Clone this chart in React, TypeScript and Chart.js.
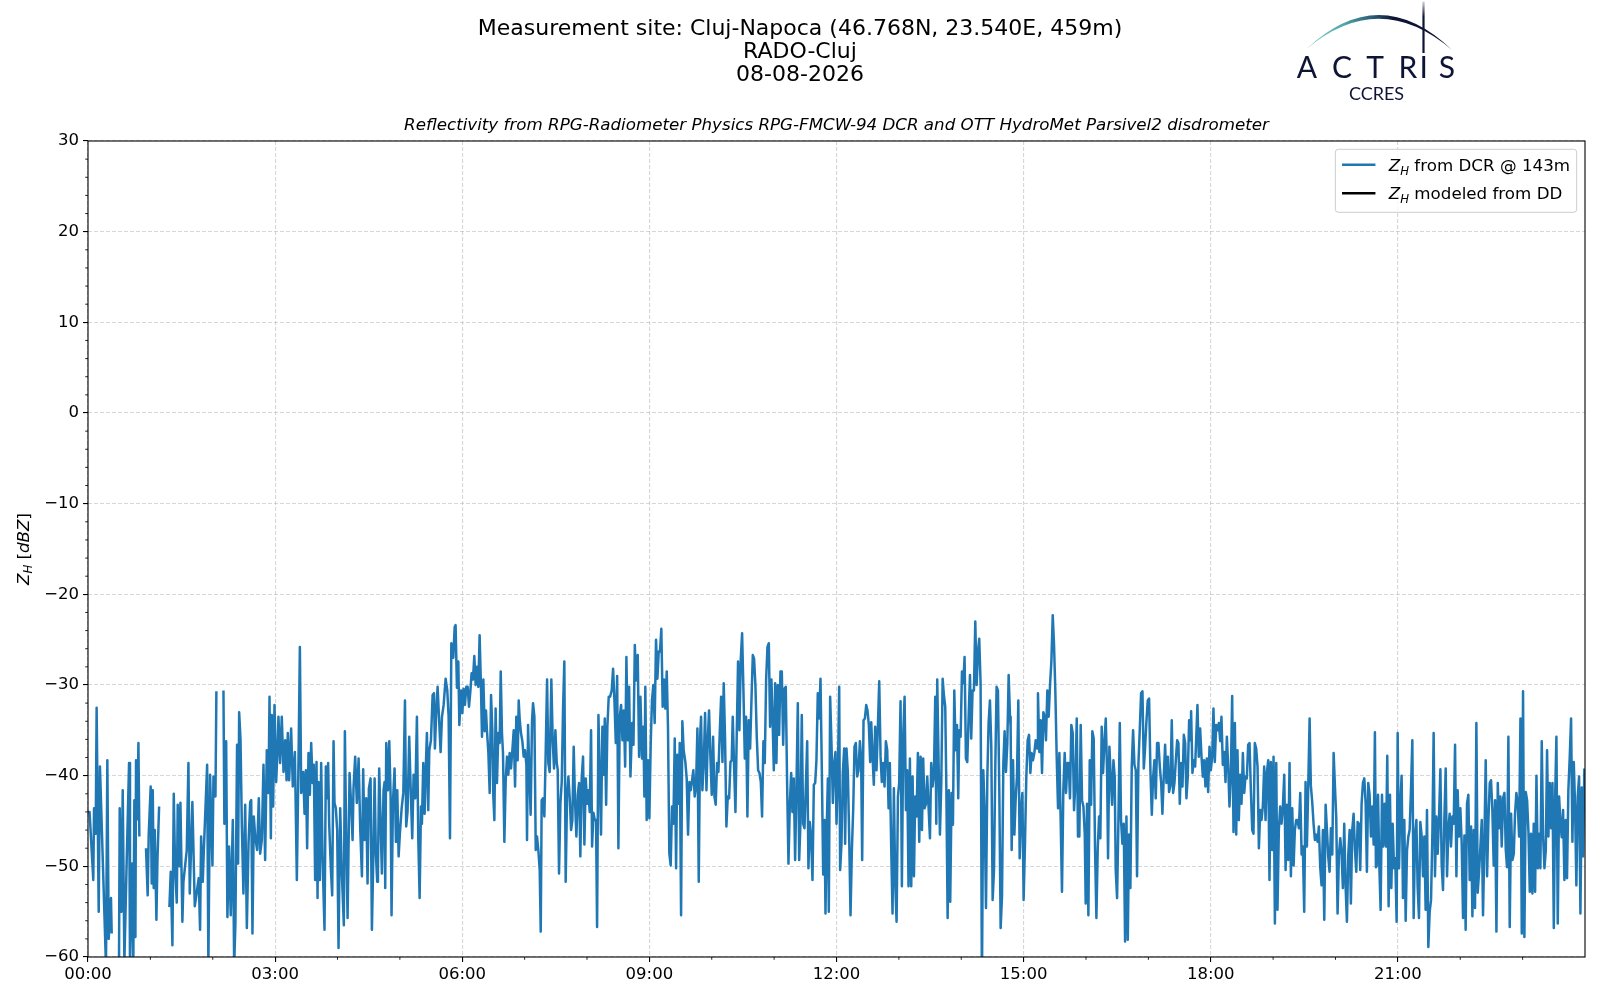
import React, { useEffect, useRef } from 'react';
import { Chart, registerables } from 'chart.js';

Chart.register(...registerables);

// ---- Z_H from the DCR, read off the picture block by block (minutes after 00:00, dBZ) ----
// null marks a break in the record
const minutes0000 = [
  0, 1.5, 5.1, 5.8, 7.4, 8.3, 10.3, 11.5, 17.3,
  18.6, 19.9, 22.1, 22.8, 26, 29.8, 30.5, 32.1, 33.4, 35,
  37.2, 39.5, 40.4, 42.4, 43.6, 44.6, 45.6, 46.2, 47.5, 48.5,
  49.4, 52, 55.8, 57.4, 58.4, 60.3, 61.3, 62.3, 63.2, 64.2,
  65.8, 66.8, 68.4, 73, 78.3, 79.6, 81.2, 82.5, 83.8, 85.4,
  86.3, 88, 88.9, 90.8, 91.8, 95, 96.6, 97.9, 100.4, 102.7,
  106.5, 107.8, 108.8, 110.4, 111.3, 114.6, 115.8, 117.4, 119.7, 120.7,
  122.6, 123.5, 127, 130.3, 131.2, 132.9, 134.1, 135.7, 137.3, 139.3,
  140.6, 141.8, 143.4, 144.4, 145.4, 146.7, 148, 149.5, 151.2, 152.8,
  154.4, 156, 157, 158.2, 159.5, 160.8, 162.7, 164.3, 165.6, 167.2,
  168.8, 170.4, 172, 173.6, 174.6, 175.9, 176.8, 178.1, 179.4,
];
const zh0000 = [
  -44, -44, -51.5, -43.6, -46.4, -32.5, -55, -39, -61,
  -38.3, -58, -53.5, -57.4, null, -61, -43.6, -55, -41.6, -60.5,
  -49.5, -38.6, -61, -49.7, -60.5, -42.7, -57.8, -38.3, -44.8, -36.4,
  -46.7, null, -48, -53.2, -46.5, -41.2, -51.9, -41.6, -52.4, -46,
  -55.9, -49.3, -43.4, null, -54.5, -50.6, -58.7, -42, -50.2, -54,
  -43.2, -50, -43, -56.1, -51.7, -48.2, -38.6, -53, -42.9, -54.4,
  -51.3, -57, -46.7, -51.7, -48.6, -38.8, -61, -39.9, -49.9, -40.1,
  -42.3, -30.7, null, -30.6, -45.3, -36.2, -55.6, -47.8, -55.4, -44.9,
  -61, -56.3, -36.6, -49.7, -33, -36, -45.6, -53, -43.2, -56.8,
  -47.5, -42.9, -42.7, -57.4, -44.5, -46.7, -48.2, -42.5, -48.6, -47.1,
  -38.8, -49.3, -37.2, -41.9, -31.3, -46.9, -33.3, -43.4, -32.2,
];

const minutes0300 = [
  181.0, 182.3, 183.2, 184.8, 186.4, 188.1, 189.7, 191.0, 192.2, 193.5,
  195.4, 197.0, 199.0, 200.9, 202.5, 203.8, 205.1, 207.0, 208.3, 209.6,
  210.8, 212.1, 213.4, 214.7, 216.0, 217.2, 218.5, 219.8, 220.8, 221.7,
  223.0, 224.3, 225.6, 227.5, 228.8, 230.1, 231.0, 232.0, 233.6, 234.9,
  236.2, 237.1, 238.4, 239.7, 241.0, 242.6, 244.2, 246.1, 247.1, 248.4,
  249.7, 251.6, 253.2, 254.5, 255.4, 257.0, 258.6, 260.3, 261.9, 263.5,
  264.7, 266.0, 267.6, 268.9, 270.2, 271.8, 273.1, 274.4, 275.7, 276.9,
  278.2, 278.9, 280.1, 281.4, 282.7, 284.3, 285.3, 285.9, 286.9, 288.5,
  289.8, 291.1, 292.0, 293.3, 294.9, 296.2, 297.5, 298.8, 300.0, 301.7,
  303.3, 304.9, 306.1, 307.4, 309.0, 310.6, 311.9, 313.2, 314.8, 316.4,
  317.7, 319.0, 320.3, 321.2, 322.5, 323.8, 325.1, 326.0, 327.3, 328.3,
  329.9, 331.5, 332.8, 333.7, 335.0, 336.3, 337.6, 339.2, 340.5, 342.1,
  344.0, 345.6, 346.9, 348.2, 349.5, 351.4, 352.7,
];
const zh0300 = [
  -40.7, -37.2, -33.5, -38.6, -33.5, -39.6, -36.1, -40.5, -35.3, -40.5,
  -34.8, -41.2, -37.4, -51.5, -38.3, -25.8, -41.9, -39.6, -44.2, -39.4,
  -48, -37.5, -42.1, -36.4, -40.8, -38.8, -51.5, -38.5, -53.5, -40.7,
  -51.5, -38.6, -48.9, -57, -39, -42.5, -38.6, -45.3, -50.2, -53.2,
  -36.2, -43, -43.6, -46, -59, -43.6, -50.8, -56.5, -35.1, -46.9,
  -55.7, -39.7, -43.4, -47.1, -41.4, -37.9, -43, -38.1, -46, -51.1,
  -39.3, -47.1, -42.5, -51.9, -41.4, -40.3, -57, -49.3, -40.3, -48.6,
  -51.7, -50.4, -39.2, -44.9, -50.8, -41.6, -40.7, -52.4, -36.4, -41.6,
  -36.2, -42.3, -55.4, -43, -39.2, -47.3, -41.6, -48.9, -46.4, -43.6,
  -41.9, -31.7, -45.6, -43.9, -35.7, -42.3, -46.9, -39.9, -42.5, -33.5,
  -46.9, -53.5, -43.4, -45.3, -38.6, -44.2, -38.5, -35.3, -43.8, -37.2,
  -36.1, -31.1, -30.9, -37, -32.9, -30.2, -33.5, -37.4, -33.5, -32.2,
  -29.3, -30.6, -33.5, -46.9, -25.4, -27, -23.6,
];

const minutes0600 = [
  353.6, 354.9, 356.2, 357.2, 358.8, 360.1, 361.3, 362.6, 363.9, 365.2,
  366.5, 367.8, 369.0, 370.3, 371.6, 372.9, 374.2, 375.5, 376.7, 378.0,
  379.0, 380.3, 381.6, 382.8, 383.8, 385.1, 386.4, 387.7, 388.9, 389.9,
  390.9, 392.1, 393.4, 394.7, 396.0, 397.0, 398.2, 399.2, 400.5, 401.8,
  403.1, 404.3, 405.6, 406.9, 408.2, 409.5, 410.8, 412.0, 413.3, 414.3,
  415.2, 416.5, 417.8, 419.1, 420.4, 421.7, 422.3, 423.3, 424.6, 425.8,
  427.1, 428.1, 429.4, 430.7, 431.9, 433.2, 434.5, 435.5, 436.4, 437.7,
  439.0, 440.3, 441.6, 442.8, 444.1, 445.7, 447.0, 448.3, 449.6, 450.9,
  451.8, 453.1, 454.4, 455.7, 457.0, 458.2, 459.5, 460.8, 462.1, 463.4,
  464.7, 465.9, 467.2, 468.5, 469.8, 471.1, 472.4, 473.6, 474.9, 476.2,
  477.5, 478.8, 480.1, 481.4, 482.6, 483.9, 484.9, 486.2, 487.5, 488.7,
  489.7, 491.0, 492.3, 493.5, 494.8, 496.1, 497.1, 498.4, 499.6, 500.9,
  502.2, 503.8, 505.1, 506.4, 507.7, 509.0, 510.2, 511.5, 512.8, 514.1,
  515.4, 516.7, 517.9, 519.2, 520.5, 521.8, 523.4, 524.7, 526.0, 527.2,
  528.8, 530.1, 531.4,
];
const zh0600 = [
  -23.4, -30.3, -27.4, -34.4, -30.6, -33.1, -30.4, -32.2, -30.2, -30.2,
  -32.4, -30.7, -28.7, -29.4, -26.8, -30, -28, -30.2, -24.5, -30.2,
  -35.7, -29.4, -35.1, -32.8, -35.1, -37.4, -41.9, -31.1, -34.9, -42.3,
  -44.9, -32.6, -40.8, -35.3, -36.4, -28.5, -35.3, -37.5, -47.3, -40.5,
  -37.9, -39.9, -37.5, -39.2, -37.2, -35, -41.2, -33.5, -38.3, -31.7,
  -33.7, -35.3, -36.2, -37.9, -37.2, -38.8, -47.1, -34.4, -39.9, -44.3,
  -34, -32, -33.5, -48.2, -46.7, -48.2, -50.4, -57.2, -42.7, -42.5,
  -44.5, -37.2, -29.4, -38.6, -39.6, -29.4, -36.1, -39.2, -35, -38.6,
  -39.3, -50.8, -43.1, -40.7, -32.4, -27.4, -51.7, -42.3, -40.1, -42.5,
  -46, -44.9, -36.8, -42.9, -46.7, -42.1, -40.8, -48.9, -40.3, -37.9,
  -47.6, -40.3, -43.1, -41.6, -44, -35, -47.8, -44.1, -44.9, -44.9,
  -56.7, -33.3, -40.1, -46.5, -34.6, -39.9, -33.7, -43.2, -34.6, -31.3,
  -31.3, -30.6, -28.2, -31.7, -36.4, -29, -48, -33.5, -32.2, -36.1,
  -32.8, -39, -26.9, -36.1, -30.2, -40.1, -34.2, -36.6, -25.6, -29.5,
  -26.7, -37.9, -31.3,
];

const minutes0900 = [
  532.9, 534.2, 535.2, 536.1, 537.4, 538.7, 540.0, 541.3, 542.5, 543.8,
  545.1, 546.4, 547.7, 549.0, 550.2, 551.5, 552.8, 554.1, 555.4, 556.7,
  557.9, 559.2, 560.5, 561.8, 563.1, 564.4, 565.7, 566.9, 568.2, 569.2,
  570.5, 571.7, 573.0, 574.6, 575.9, 577.2, 578.5, 579.8, 581.1, 582.3,
  583.6, 584.9, 586.2, 587.5, 588.8, 589.7, 591.0, 592.3, 593.6, 594.9,
  596.1, 597.4, 598.7, 600.0, 601.3, 602.6, 603.8, 605.1, 606.4, 607.7,
  609.0, 610.3, 611.5, 612.8, 614.1, 615.4, 616.7, 618.0, 619.2, 620.2,
  621.5, 622.8, 624.1, 625.3, 626.6, 627.9, 629.2, 630.5, 631.8, 633.0,
  634.3, 635.6, 636.9, 638.2, 639.5, 640.7, 642.0, 643.3, 644.6, 645.9,
  647.2, 648.4, 649.7, 651.0, 652.3, 653.6, 654.9, 656.1, 657.4, 658.7,
  659.7, 661.0, 662.2, 663.5, 664.8, 666.1, 667.4, 668.7, 669.9, 671.2,
  672.5, 673.8, 675.1, 676.4, 677.6, 678.9, 680.2, 681.5, 682.8, 684.1,
  685.3, 686.6, 687.9, 689.2, 690.5, 691.8, 693.0, 694.3, 695.6, 696.9,
  698.2, 699.5, 700.7, 702.0, 703.3, 704.6, 705.9, 707.2, 708.5, 709.4,
];
const zh0900 = [
  -38.1, -34.6, -42.3, -30.2, -44.9, -38.3, -44.7, -36.4, -31.7, -30,
  -34.2, -25, -29.3, -26.3, -26.3, -23.8, -32.4, -29.4, -32.6, -28.5,
  -34.6, -48.6, -49.9, -43.4, -45.3, -35.9, -50.2, -37.7, -43.1, -36.4,
  -55.4, -34, -37.2, -38.5, -40.3, -46.5, -40.7, -41.6, -40.5, -39.4,
  -42.3, -41.2, -34.8, -51.7, -35.7, -33.5, -41.6, -38.6, -33.1, -41.6,
  -36.4, -32.8, -37.9, -42.1, -35.7, -42.3, -43.2, -38.6, -39.6, -35.3,
  -31.3, -38.5, -29.8, -35.9, -45.6, -42.3, -42.5, -38.5, -38.3, -33.5,
  -39, -44, -35, -27.4, -35, -27.2, -24.3, -30.7, -38.1, -33.5,
  -44.5, -33.9, -37, -31.7, -26.7, -27.1, -30, -35.7, -39.4, -39.7,
  -40.7, -44.5, -36.2, -38.6, -29.4, -25.8, -25.4, -34.6, -29.4, -34.6,
  -39.4, -29.8, -38.6, -30, -35.5, -28.5, -28.5, -36.6, -30.4, -30.2,
  -40.8, -49.7, -43.2, -39.7, -44, -40.3, -49.3, -41.2, -32, -49.3,
  -45.3, -33.3, -45.3, -45.8, -41.2, -36.2, -50.2, -45.1, -46.7, -51.5,
  -41, -40.8, -38.3, -30.9, -33.7, -29.3, -39.4, -50.9, -44.9, -55.2,
];

const minutes1200 = [
  710.7, 711.7, 712.6, 713.9, 715.2, 716.5, 717.8, 719.0, 720.0, 721.3,
  722.6, 723.5, 724.8, 726.1, 727.4, 728.3, 729.6, 730.9, 732.2, 733.5,
  734.8, 736.1, 737.3, 738.6, 739.9, 741.2, 742.5, 743.7, 744.7, 746.0,
  747.3, 748.6, 749.8, 751.1, 752.4, 753.4, 754.7, 755.9, 757.2, 758.5,
  759.8, 761.1, 762.4, 763.6, 764.9, 766.2, 767.5, 768.8, 770.1, 771.3,
  772.6, 773.9, 775.2, 776.5, 777.8, 779.1, 780.3, 781.6, 782.9, 784.2,
  785.5, 786.8, 788.0, 789.3, 790.6, 791.9, 793.2, 794.5, 795.7, 797.0,
  798.3, 799.6, 800.9, 802.2, 803.4, 804.7, 806.0, 807.3, 808.6, 809.9,
  811.1, 812.4, 813.7, 815.0, 816.0, 816.9, 818.2, 819.5, 820.8, 822.1,
  823.3, 824.6, 825.6, 826.9, 828.1, 829.4, 830.7, 832.0, 833.3, 834.6,
  835.9, 837.1, 838.1, 839.4, 840.7, 842.0, 843.2, 844.5, 845.8, 847.1,
  848.4, 849.6, 850.9, 852.2, 853.5, 854.8, 856.1, 857.3, 858.6, 859.9,
  861.2, 862.5, 863.8, 865.1, 866.3, 867.6, 868.9, 870.2, 871.5, 872.8,
  874.0, 875.3, 876.6, 877.9, 879.2, 880.5, 881.7, 883.0, 884.3, 885.6,
  886.9, 887.5,
];
const zh1200 = [
  -45.3, -40.3, -55, -31.3, -36.6, -43, -38.6, -37.4, -45.3, -40.1,
  -30.2, -50.4, -47.5, -39.6, -37, -47.5, -37, -39.6, -46.7, -55.4,
  -48.2, -43.6, -36.8, -36.4, -40.1, -39.4, -36.2, -38.1, -49.3, -33.9,
  -33.7, -32.2, -32.8, -34.4, -38.5, -34.1, -37.9, -41, -34.6, -39.4,
  -34.6, -29.6, -37.9, -40.7, -38.6, -41.2, -36.2, -37.2, -43.6, -38.6,
  -47.8, -55.2, -41.4, -51.9, -56.1, -42.3, -40.8, -31.8, -52.2, -35.5,
  -31.3, -43.8, -39.4, -52.2, -38.1, -52.2, -40.1, -51.1, -42.3, -44.5,
  -37.5, -47.3, -37.9, -46, -38.1, -43.6, -43.1, -40.1, -43.6, -46.9,
  -38.6, -41.2, -39.9, -31.3, -45.3, -29.4, -38.5, -46.5, -40.8, -29.3,
  -31.1, -32.4, -40.7, -55.7, -41.6, -53.9, -41.9, -45.4, -30.6, -37.2,
  -34.4, -42.5, -35, -35.7, -28.5, -29.8, -26.9, -38.1, -38.5, -33.5,
  -28.9, -35.9, -30.6, -30.6, -23, -30, -26.3, -24.9, -29.8, -63,
  -39.4, -43.8, -54.6, -40.1, -34.2, -31.7, -36.8, -53.7, -50.4, -38.6,
  -30.2, -30.6, -41.6, -56.8, -53.3, -38.6, -35.1, -39.6, -36.5, -28.9,
  -33.5, -34.6,
];

const minutes1500 = [
  888.5, 889.8, 891.1, 892.3, 893.6, 894.9, 896.2, 897.5, 898.8, 900.0,
  901.3, 902.6, 903.9, 905.2, 906.5, 907.7, 909.0, 910.3, 911.6, 912.9,
  913.8, 915.1, 916.4, 917.7, 919.0, 920.3, 921.5, 922.8, 924.1, 925.4,
  926.7, 928.0, 929.2, 930.5, 931.8, 933.1, 934.4, 935.7, 936.9, 938.2,
  939.5, 940.8, 942.1, 943.4, 944.6, 945.9, 947.2, 948.5, 949.8, 951.1,
  952.3, 953.6, 954.9, 956.2, 957.5, 958.8, 959.7, 961.0, 962.3, 963.6,
  964.9, 966.1, 967.4, 968.7, 970.0, 971.3, 972.6, 973.8, 975.1, 976.4,
  977.7, 979.0, 980.3, 981.2, 982.5, 983.8, 985.1, 986.4, 987.6, 988.6,
  989.9, 991.2, 992.5, 993.7, 995.0, 996.3, 997.6, 998.9, 1000.2, 1001.4,
  1002.7, 1004.0, 1005.3, 1006.6, 1007.9, 1009.1, 1010.4, 1011.7, 1013.0, 1014.3,
  1015.6, 1016.8, 1018.1, 1019.4, 1020.7, 1022.0, 1023.3, 1024.5, 1025.8, 1027.1,
  1028.4, 1029.7, 1031.0, 1032.3, 1033.5, 1034.8, 1036.1, 1037.4, 1038.7, 1039.9,
  1041.2, 1042.5, 1043.8, 1045.1, 1046.4, 1047.7, 1048.9, 1050.2, 1051.5, 1052.8,
  1054.1, 1055.4, 1056.6, 1057.9, 1059.2, 1060.8,
];
const zh1500 = [
  -48.2, -38.3, -46.5, -42.7, -40.1, -31.7, -49.1, -44, -41.9, -53.7,
  -47.5, -40.1, -36.1, -35.5, -39.7, -37.5, -38.3, -37.5, -36.1, -37,
  -30.9, -37.4, -33.9, -39.7, -33, -33.5, -36.1, -30.6, -33.5, -30,
  -27.4, -22.3, -25.4, -30.6, -37.9, -43.6, -37.5, -45.3, -52.8, -41.6,
  -37.5, -41.9, -38.6, -38.6, -42.5, -34.4, -35.3, -43.8, -40.8, -33.7,
  -46.7, -46.7, -34.4, -42.7, -43.4, -46.4, -54.1, -43.1, -55.4, -38.3,
  -43.2, -35.1, -35.9, -48, -55.7, -48, -44.5, -46.9, -34.6, -39.7,
  -36.4, -33.7, -39.7, -49.1, -36.8, -40.1, -43.2, -38.3, -40.1, -50.4,
  -53.5, -44.9, -34.2, -44.9, -47.5, -45.3, -58.3, -44.5, -58.1, -46.5,
  -52.4, -39, -35, -38.8, -39.4, -51.1, -38.8, -35, -30.9, -30.7,
  -39.2, -37, -34.1, -31.7, -31.5, -39.6, -44.3, -40.3, -38.3, -42.5,
  -36.4, -36.4, -39, -40.8, -44.2, -40.1, -36.6, -40.8, -37.9, -41.8,
  -41.1, -33.9, -41.9, -40.8, -38.3, -36.1, -36.4, -43.1, -38.6, -41.2,
  -35.5, -36.4, -42.5, -40.1, -33.9, -36.1,
];

const minutes1800 = [
  1061.1, 1062.4, 1063.7, 1065.0, 1066.3, 1067.2, 1068.5, 1069.8, 1071.1, 1072.4,
  1073.6, 1074.9, 1076.2, 1077.5, 1078.8, 1080.1, 1081.4, 1082.6, 1083.9, 1085.2,
  1086.5, 1087.8, 1089.1, 1090.3, 1091.6, 1092.9, 1094.2, 1095.5, 1096.8, 1098.0,
  1099.3, 1100.6, 1101.9, 1103.2, 1104.5, 1105.7, 1107.0, 1108.3, 1109.6, 1110.9,
  1112.2, 1113.4, 1114.7, 1116.0, 1117.3, 1118.6, 1119.9, 1121.1, 1122.4, 1123.7,
  1125.0, 1126.3, 1127.6, 1128.8, 1130.1, 1131.4, 1132.7, 1134.0, 1135.3, 1136.5,
  1137.8, 1139.1, 1140.4, 1141.7, 1143.0, 1144.2, 1145.5, 1146.8, 1148.1, 1149.4,
  1150.7, 1152.0, 1153.2, 1154.5, 1155.8, 1157.1, 1158.4, 1159.7, 1160.9, 1162.2,
  1163.5, 1164.8, 1166.1, 1167.4, 1168.6, 1169.9, 1171.2, 1172.5, 1173.8, 1175.1,
  1176.3, 1177.6, 1178.9, 1180.2, 1181.5, 1182.8, 1184.0, 1185.3, 1186.6, 1187.9,
  1189.2, 1190.5, 1191.7, 1193.0, 1194.3, 1195.6, 1196.9, 1198.2, 1199.4, 1200.7,
  1202.0, 1203.3, 1204.6, 1205.9, 1207.1, 1208.4, 1209.7, 1211.0, 1212.3, 1213.6,
  1214.8, 1216.1, 1217.4, 1218.7, 1220.0, 1221.3, 1222.5, 1223.8, 1225.1, 1226.4,
  1227.7, 1229.0, 1230.2, 1231.5, 1232.8, 1234.1, 1235.4, 1236.7, 1237.9, 1238.9,
];
const zh1800 = [
  -32.9, -39.7, -38.3, -39, -35, -32.2, -37.9, -34.8, -37.9, -40.1,
  -38.3, -41.2, -38.1, -41.8, -36.8, -39.4, -37.9, -32.6, -38.5, -34.4,
  -35, -34.2, -36.2, -33.5, -38.8, -37.4, -40.7, -35.7, -39, -43.4,
  -40.1, -31.2, -46.2, -34.2, -46.5, -37.2, -44.9, -39.9, -43.1, -37.5,
  -41.9, -40.1, -40.3, -36.6, -36.4, -41.6, -46, -46.4, -36.4, -37,
  -39, -48, -43.8, -44.9, -43.4, -39, -44.9, -39.6, -38.3, -51.5,
  -38.5, -48.2, -37.9, -56.3, -38.6, -54.8, -46, -43.4, -45.3, -43.4,
  -39.9, -50.4, -43.2, -49.3, -38.6, -51.1, -43.6, -49.9, -46, -44.9,
  -44.9, -45.8, -41.9, -48.7, -47.8, -55, -40.7, -47.8, -41.1, -33.7,
  -41.1, -42.9, -45.3, -47.1, -46.5, -47.3, -45.6, -50.1, -52.1, -46,
  -55.9, -43.2, -45.8, -48.9, -50.6, -45.8, -48.7, -37.5, -41, -44.5,
  -55.2, -48.7, -46.9, -48.7, -52.4, -45.3, -52.2, -56.1, -48.7, -46,
  -54.1, -46, -44.2, -48.2, -50.6, -45.1, -45.3, -50.4, -43.1, -40.8,
  -40.3, -43.1, -50.6, -40.8, -42.1, -46.7, -43.4, -47.6, -35.2, -50.1,
];

const minutes2100 = [
  1239.6, 1240.9, 1242.1, 1243.4, 1244.7, 1246.0, 1247.3, 1248.6, 1249.8, 1251.1,
  1252.4, 1253.7, 1255.0, 1256.3, 1257.5, 1258.8, 1259.8, 1261.1, 1262.4, 1263.6,
  1264.9, 1266.2, 1267.5, 1268.8, 1270.1, 1271.3, 1272.6, 1273.9, 1275.2, 1276.5,
  1277.8, 1279.0, 1280.3, 1281.6, 1282.9, 1284.2, 1285.5, 1286.7, 1288.0, 1289.3,
  1290.6, 1291.9, 1293.2, 1294.4, 1295.7, 1297.0, 1298.3, 1299.6, 1300.9, 1302.1,
  1303.4, 1304.7, 1306.0, 1307.3, 1308.6, 1309.8, 1311.1, 1312.4, 1313.7, 1315.0,
  1316.3, 1317.5, 1318.8, 1320.1, 1321.4, 1322.7, 1324.0, 1325.2, 1326.5, 1327.8,
  1329.1, 1330.4, 1331.7, 1333.0, 1334.2, 1335.5, 1336.8, 1338.1, 1339.4, 1340.7,
  1341.9, 1343.2, 1344.5, 1345.8, 1347.1, 1348.4, 1349.6, 1350.9, 1352.2, 1353.5,
  1354.8, 1356.1, 1357.3, 1358.6, 1359.9, 1361.2, 1362.5, 1363.8, 1365.0, 1366.3,
  1367.6, 1368.9, 1370.2, 1371.5, 1372.7, 1374.0, 1375.3, 1376.6, 1377.9, 1379.2,
  1380.4, 1381.7, 1383.0, 1384.3, 1385.6, 1386.9, 1388.1, 1389.4, 1390.7, 1392.0,
  1393.3, 1394.6, 1395.8, 1397.1, 1398.4, 1399.7, 1401.0, 1402.3, 1403.5, 1404.8,
  1406.1, 1407.4, 1408.7, 1410.0, 1411.3, 1412.5, 1413.8, 1415.1, 1416.4, 1417.6,
  1418.9, 1420.2, 1421.5, 1422.7, 1424.0, 1425.3, 1426.6, 1427.9, 1429.2, 1430.4,
  1431.7, 1433.0, 1434.3, 1435.6, 1436.9, 1438.1, 1439.4,
];
const zh2100 = [
  -50, -42.1, -49.7, -54.8, -42.1, -47.8, -43.1, -47.8, -37.8, -54.4,
  -42.1, -52.4, -45.3, -50.2, -49.1, -56.1, -35.3, -50.2, -43.1, -40,
  -53.5, -44.9, -56, -48.2, -46.7, -46, -41.6, -36.1, -55.7, -46.7,
  -44.9, -52.2, -55.7, -45.1, -46.7, -51.1, -46.7, -54.8, -43.8, -58.9,
  -55, -53.7, -46.4, -35.3, -51.1, -44.5, -48.6, -44.5, -39.3, -49.7,
  -52.6, -44.9, -39.2, -51.1, -45.8, -44.2, -47.8, -44.5, -45.3, -36.6,
  -51.1, -41.6, -46.7, -43.6, -47.5, -55.7, -46.6, -57, -43.1, -42.1,
  -51.5, -45.6, -55.5, -46, -54.6, -34.2, -52.9, -50.6, -47.8, -44.9,
  -55.4, -47.5, -38.3, -51.1, -44.9, -40.8, -40.5, -43.8, -49.9, -42.7,
  -57.2, -40.8, -45.8, -42.3, -47.8, -42.5, -41.9, -48.2, -50.1, -35.7,
  -56.7, -44.2, -49.3, -48.6, -44.2, -41.9, -43.1, -46.7, -33.7, -57.4,
  -30.7, -57.8, -41.8, -42.7, -46.2, -52.8, -46.4, -53, -45.3, -52.8,
  -40, -50.2, -46.4, -50.2, -36.2, -46.7, -50.2, -48.2, -37.2, -46.7,
  -40.8, -45.8, -40.8, -56.8, -42.3, -35.7, -56.3, -42.3, -45.3, -46.8,
  -43.8, -51.5, -44.9, -51.3, -41.6, -38, -33.7, -47.3, -38.5, -43.1,
  -52.1, -42.3, -40.1, -55.2, -41.3, -48.9, -39.2,
];

const timeMinutes = [
  ...minutes0000, ...minutes0300, ...minutes0600, ...minutes0900,
  ...minutes1200, ...minutes1500, ...minutes1800, ...minutes2100,
];
const zhDcr: (number | null)[] = [
  ...zh0000, ...zh0300, ...zh0600, ...zh0900,
  ...zh1200, ...zh1500, ...zh1800, ...zh2100,
];
// the disdrometer gives nothing on this day
const zhModeled: { x: number; y: number }[] = [];

const hourTicks = [0, 180, 360, 540, 720, 900, 1080, 1260];
const zTicks = [-60, -50, -40, -30, -20, -10, 0, 10, 20, 30];

const titleLines = ['Measurement site: Cluj-Napoca (46.768N, 23.540E, 459m)', 'RADO-Cluj', '08-08-2026'];
const subTitle = 'Reflectivity from RPG-Radiometer Physics RPG-FMCW-94 DCR and OTT HydroMet Parsivel2 disdrometer';
const legendItems = [
  { text: ' from DCR @ 143m', color: '#1f77b4' },
  { text: ' modeled from DD', color: '#000000' },
];

const FAMILY = '"DejaVu Sans", sans-serif';
const NAVY = '#0e1436';
const LINE_W = 2.5;

const pad2 = (n: number) => String(n).padStart(2, '0');

// italic Z with subscript H, like matplotlib's $Z_H$; returns the width used
function drawZH(ctx: CanvasRenderingContext2D, x: number, y: number, size: number, measureOnly = false) {
  ctx.font = `italic ${size}px ${FAMILY}`;
  const wz = ctx.measureText('Z').width;
  if (!measureOnly) ctx.fillText('Z', x, y);
  const sub = size * 0.7;
  ctx.font = `italic ${sub}px ${FAMILY}`;
  const wh = ctx.measureText('H').width;
  if (!measureOnly) ctx.fillText('H', x + wz, y + size * 0.23);
  return wz + wh;
}

function drawLogo(ctx: CanvasRenderingContext2D) {
  ctx.save();
  // swoosh
  const g = ctx.createLinearGradient(1307, 0, 1451, 0);
  g.addColorStop(0, '#86cfca');
  g.addColorStop(0.25, '#4fa9a8');
  g.addColorStop(0.45, '#2b5f78');
  g.addColorStop(0.6, NAVY);
  g.addColorStop(1, NAVY);
  ctx.fillStyle = g;
  ctx.beginPath();
  ctx.moveTo(1306, 49.5);
  ctx.quadraticCurveTo(1379, -19.5, 1452, 50);
  ctx.quadraticCurveTo(1379, -12, 1306, 49.5);
  ctx.closePath();
  ctx.fill();
  // mast
  const vg = ctx.createLinearGradient(0, 1, 0, 53);
  vg.addColorStop(0, 'rgba(14,20,54,0.15)');
  vg.addColorStop(0.3, NAVY);
  vg.addColorStop(1, NAVY);
  ctx.fillStyle = vg;
  ctx.fillRect(1422.4, 1.5, 2.2, 51.5);
  // letters
  ctx.fillStyle = NAVY;
  ctx.textAlign = 'center';
  ctx.textBaseline = 'alphabetic';
  ctx.font = '400 30px Lato, "Open Sans", sans-serif';
  const letters: [string, number][] = [['A', 1307], ['C', 1342], ['T', 1375], ['R', 1408], ['I', 1423.6], ['S', 1447]];
  letters.forEach(([ch, cx]) => ctx.fillText(ch, cx, 77.8));
  ctx.font = '18px Lato, "Open Sans", sans-serif';
  ctx.fillText('CCRES', 1376.5, 99.5);
  ctx.restore();
}

const decorPlugin = {
  id: 'decor',
  beforeDraw(chart: Chart) {
    const ctx = chart.ctx;
    ctx.save();
    ctx.fillStyle = '#ffffff';
    ctx.fillRect(0, 0, chart.width, chart.height);
    ctx.restore();
  },
  afterDatasetsDraw(chart: Chart) {
    const { ctx, chartArea: a } = chart;
    const xs = chart.scales.x;
    const ys = chart.scales.y;
    ctx.save();
    // minor ticks
    ctx.strokeStyle = '#000';
    ctx.lineWidth = 0.85;
    ctx.beginPath();
    for (let m = 60; m < 1440; m += 60) {
      if (m % 180 === 0) continue;
      const px = xs.getPixelForValue(m);
      ctx.moveTo(px, a.bottom);
      ctx.lineTo(px, a.bottom + 2.8);
    }
    for (let v = -58; v < 30; v += 2) {
      if (v % 10 === 0) continue;
      const py = ys.getPixelForValue(v);
      ctx.moveTo(a.left, py);
      ctx.lineTo(a.left - 2.8, py);
    }
    ctx.stroke();
    // spines
    ctx.lineWidth = 1.1;
    ctx.strokeRect(a.left, a.top, a.right - a.left, a.bottom - a.top);
    ctx.restore();
  },
  afterDraw(chart: Chart) {
    const { ctx, chartArea: a } = chart;
    ctx.save();
    ctx.fillStyle = '#000';
    // figure title
    ctx.textAlign = 'center';
    ctx.textBaseline = 'middle';
    ctx.font = `22px ${FAMILY}`;
    titleLines.forEach((line, i) => ctx.fillText(line, 800, 29 + i * 23));
    // axes title
    ctx.font = `italic 16.7px ${FAMILY}`;
    ctx.fillText(subTitle, (a.left + a.right) / 2, 125.5);

    // y label: Z_H [dBZ]
    const fs = 16.7;
    ctx.textAlign = 'left';
    ctx.textBaseline = 'alphabetic';
    const wZ = drawZH(ctx, 0, 0, fs, true);
    ctx.font = `${fs}px ${FAMILY}`;
    const wOpen = ctx.measureText(' [').width;
    const wClose = ctx.measureText(']').width;
    ctx.font = `italic ${fs}px ${FAMILY}`;
    const wUnit = ctx.measureText('dBZ').width;
    const total = wZ + wOpen + wUnit + wClose;
    ctx.translate(28.5, (a.top + a.bottom) / 2);
    ctx.rotate(-Math.PI / 2);
    let x0 = -total / 2;
    x0 += drawZH(ctx, x0, 0, fs);
    ctx.font = `${fs}px ${FAMILY}`;
    ctx.fillText(' [', x0, 0);
    x0 += wOpen;
    ctx.font = `italic ${fs}px ${FAMILY}`;
    ctx.fillText('dBZ', x0, 0);
    x0 += wUnit;
    ctx.font = `${fs}px ${FAMILY}`;
    ctx.fillText(']', x0, 0);
    ctx.setTransform(1, 0, 0, 1, 0, 0);
    ctx.restore();

    // legend, upper right
    ctx.save();
    const lf = 16.7;
    let maxW = 0;
    legendItems.forEach((it) => {
      const w = drawZH(ctx, 0, 0, lf, true);
      ctx.font = `${lf}px ${FAMILY}`;
      maxW = Math.max(maxW, w + ctx.measureText(it.text).width);
    });
    const boxW = 6.7 + 33.4 + 13.4 + maxW + 6.7;
    const boxH = 63;
    const bx = a.right - 8.3 - boxW;
    const by = a.top + 8.3;
    const r = 3;
    ctx.beginPath();
    ctx.moveTo(bx + r, by);
    ctx.arcTo(bx + boxW, by, bx + boxW, by + boxH, r);
    ctx.arcTo(bx + boxW, by + boxH, bx, by + boxH, r);
    ctx.arcTo(bx, by + boxH, bx, by, r);
    ctx.arcTo(bx, by, bx + boxW, by, r);
    ctx.closePath();
    ctx.fillStyle = 'rgba(255,255,255,0.8)';
    ctx.fill();
    ctx.strokeStyle = '#cccccc';
    ctx.lineWidth = 1;
    ctx.stroke();
    legendItems.forEach((it, i) => {
      const cy = by + 15.5 + i * 28.5;
      ctx.strokeStyle = it.color;
      ctx.lineWidth = LINE_W;
      ctx.beginPath();
      ctx.moveTo(bx + 6.7, cy);
      ctx.lineTo(bx + 6.7 + 33.4, cy);
      ctx.stroke();
      ctx.fillStyle = '#000';
      ctx.textAlign = 'left';
      ctx.textBaseline = 'alphabetic';
      const tx = bx + 6.7 + 33.4 + 13.4;
      const base = cy + lf * 0.36;
      const w = drawZH(ctx, tx, base, lf);
      ctx.font = `${lf}px ${FAMILY}`;
      ctx.fillText(it.text, tx + w, base);
    });
    ctx.restore();

    drawLogo(ctx);
  },
};

const App: React.FC = () => {
  const canvasRef = useRef<HTMLCanvasElement>(null);
  const chartRef = useRef<Chart | null>(null);

  useEffect(() => {
    document.body.style.margin = '0';
    if (!canvasRef.current) return;
    const ctx = canvasRef.current.getContext('2d');
    if (!ctx) return;

    if (chartRef.current) {
      chartRef.current.destroy();
    }

    const tickFont = { family: FAMILY, size: 16.5 };
    const gridColor = 'rgba(176,176,176,0.5)';

    chartRef.current = new Chart(ctx, {
      type: 'line',
      data: {
        datasets: [
          {
            label: 'Z_H from DCR @ 143m',
            data: timeMinutes.map((t, i) => ({ x: t, y: zhDcr[i] as number })),
            borderColor: '#1f77b4',
            backgroundColor: '#1f77b4',
            borderWidth: LINE_W,
            borderJoinStyle: 'round',
            pointRadius: 0,
            tension: 0,
            spanGaps: false,
            clip: 0,
          },
          {
            label: 'Z_H modeled from DD',
            data: zhModeled,
            borderColor: '#000000',
            borderWidth: LINE_W,
            pointRadius: 0,
          },
        ],
      },
      options: {
        animation: false,
        responsive: false,
        layout: { padding: { top: 141, right: 15, bottom: 0, left: 0 } },
        plugins: {
          legend: { display: false },
          tooltip: { enabled: false },
        },
        scales: {
          x: {
            type: 'linear',
            min: 0,
            max: 1440,
            afterBuildTicks: (s: any) => {
              s.ticks = hourTicks.map((v) => ({ value: v }));
            },
            afterFit: (s: any) => {
              s.height = 43;
            },
            ticks: {
              autoSkip: false,
              maxRotation: 0,
              color: '#000',
              font: tickFont,
              padding: 3,
              callback: (v: any) => `${pad2(Math.floor(Number(v) / 60))}:${pad2(Number(v) % 60)}`,
            },
            grid: { color: gridColor, lineWidth: 1.1, tickColor: '#000', tickLength: 5, tickWidth: 1.1 },
            border: { display: false, dash: [4, 2] },
          },
          y: {
            type: 'linear',
            min: -60,
            max: 30,
            afterBuildTicks: (s: any) => {
              s.ticks = zTicks.map((v) => ({ value: v }));
            },
            afterFit: (s: any) => {
              s.width = 88;
            },
            ticks: {
              color: '#000',
              font: tickFont,
              padding: 4,
              callback: (v: any) => (Number(v) < 0 ? `\u2212${-Number(v)}` : `${v}`),
            },
            grid: { color: gridColor, lineWidth: 1.1, tickColor: '#000', tickLength: 5, tickWidth: 1.1 },
            border: { display: false, dash: [4, 2] },
          },
        },
      },
      plugins: [decorPlugin],
    } as any);

    return () => {
      if (chartRef.current) {
        chartRef.current.destroy();
        chartRef.current = null;
      }
    };
  }, []);

  return (
    <div style={{ width: 1600, height: 1000 }}>
      <canvas ref={canvasRef} width={1600} height={1000}></canvas>
    </div>
  );
};

export default App;
